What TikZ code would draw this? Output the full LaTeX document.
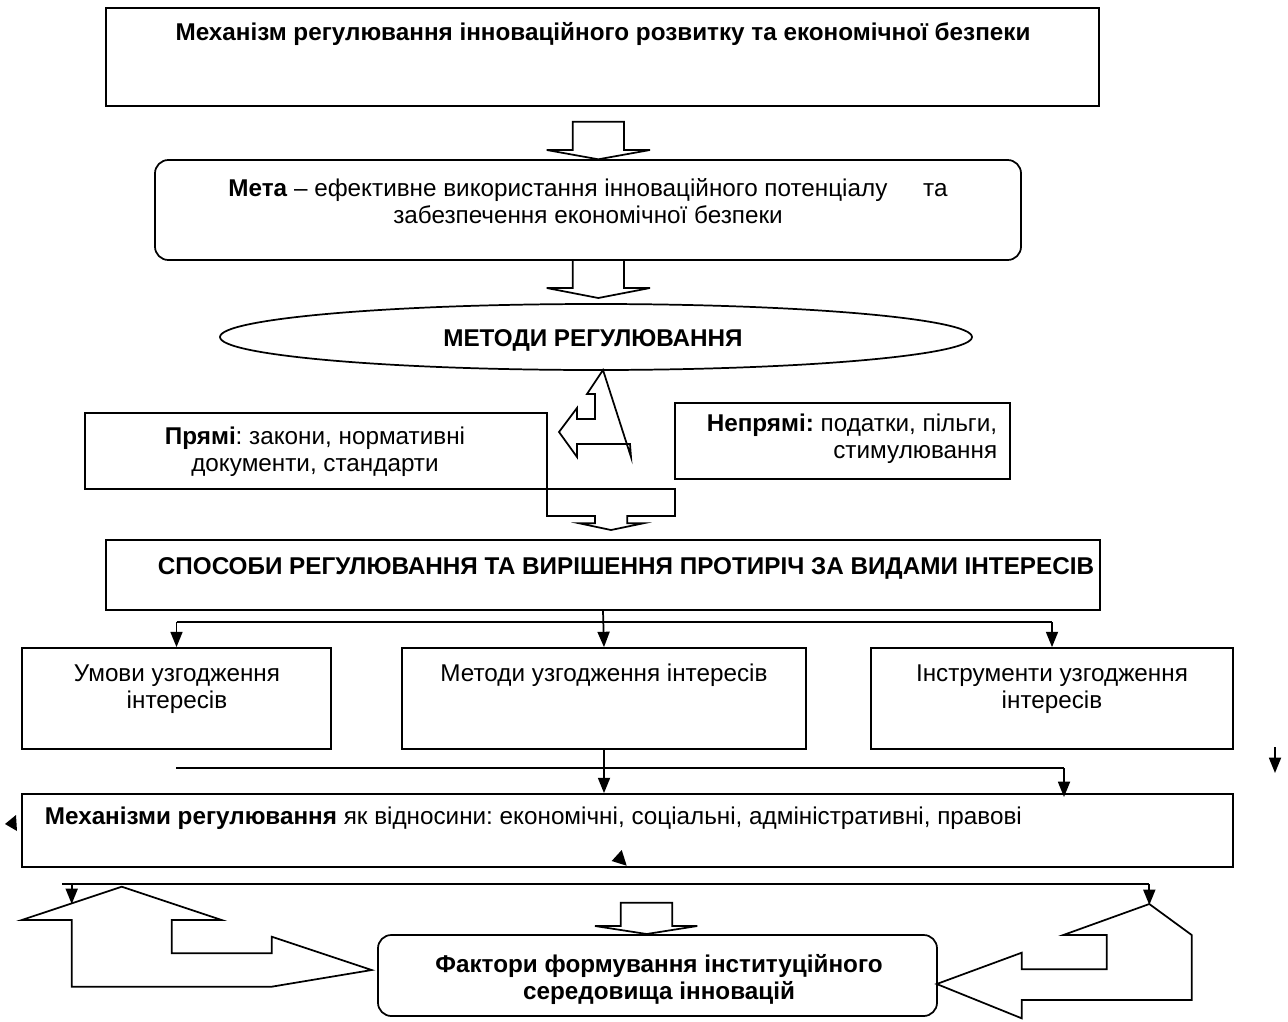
\documentclass[tikz,border=0pt]{standalone}
\usepackage{fontspec}
\setmainfont{Liberation Sans}
\usetikzlibrary{shapes.geometric,fit,arrows.meta}
\frenchspacing
\begin{document}
\begin{tikzpicture}[x=0.75pt,y=-0.75pt,line width=1.3pt,line join=miter,
  rectbox/.style={draw,inner sep=0pt,line width=1.3pt},
  roundbox/.style={draw,inner sep=0pt,line width=1.3pt,rounded corners=10pt},
  txt/.style={font=\fontsize{18.2}{20.25}\selectfont\frenchspacing,align=center,inner sep=0pt},
  btxt/.style={txt,font=\fontsize{18.2}{20.25}\selectfont\bfseries},
  arr/.style={-{Triangle[width=9pt,length=11.5pt]}},
  blockarrow/.style={draw,line width=1.3pt},
  tip/.style={fill=black,draw=none}]
\useasboundingbox (0,0) rectangle (1288,1021);

% top box
\node[rectbox,fit={(106,8)(1099,106)}] (top) {};
\node[btxt] (toptxt) at (603,34) {Механізм регулювання інноваційного розвитку та економічної безпеки};

% arrow 1
\draw[blockarrow] (572.7,121.7) -- (624,121.7) -- (624,150) -- (650,150) -- (598.3,159.3) -- (546.7,150) -- (572.7,150) -- cycle;

% goal box
\node[roundbox,fit={(155,160)(1021,260)}] (goal) {};
\node[txt] (goaltxt) at (588,201) {\textbf{Мета} – ефективне використання інноваційного потенціалу\hspace{1.2em} та\\забезпечення економічної безпеки};

% arrow 2
\draw[blockarrow] (572.7,260) -- (572.7,288) -- (546.7,288) -- (598.3,298) -- (650,288) -- (624,288) -- (624,260);

% ellipse
\node[draw,ellipse,inner sep=0pt,minimum width=564pt,minimum height=49.5pt] (methods) at (596,337) {};
\node[btxt] (methodstxt) at (593,340) {МЕТОДИ РЕГУЛЮВАННЯ};

% odd arrow under ellipse
\draw[blockarrow] (603,370) -- (587,394) -- (595,394) -- (595,419) -- (577,419) -- (577,408) -- (559,432) -- (577,457) -- (577,444) -- (630,444) -- (631,457) -- cycle;

% direct / indirect
\node[rectbox,fit={(85,413)(547,489)}] (direct) {};
\node[txt] (directtxt) at (315,452) {\textbf{Прямі}: закони, нормативні\\документи, стандарти};
\node[rectbox,fit={(675,403)(1010,479)}] (indirect) {};
\node[txt,align=right,anchor=east] (indirecttxt) at (998,439) {\textbf{Непрямі:} податки, пільги,\\стимулювання};

% block arrow to ways
\draw[blockarrow] (547,489) -- (675,489) -- (675,516) -- (627.3,516) -- (627.3,523.3) -- (643.3,523.3) -- (611,530) -- (579.3,523.3) -- (595,523.3) -- (595,516) -- (547,516) -- cycle;

% ways
\node[rectbox,fit={(106,540)(1100,610)}] (ways) {};
\node[btxt] (waystxt) at (626,568) {СПОСОБИ РЕГУЛЮВАННЯ ТА ВИРІШЕННЯ ПРОТИРІЧ ЗА ВИДАМИ ІНТЕРЕСІВ};

% three boxes
\node[rectbox,fit={(22,648)(331,749)}] (cond) {};
\node[txt] (condtxt) at (177,689) {Умови узгодження\\інтересів};
\node[rectbox,fit={(402,648)(806,749)}] (meth) {};
\node[txt] (methtxt) at (604,675) {Методи узгодження інтересів};
\node[rectbox,fit={(871,648)(1233,749)}] (instr) {};
\node[txt] (instrtxt) at (1052,689) {Інструменти узгодження\\інтересів};

\coordinate (bl) at (176.5,622);
\coordinate (br) at (1052,622);
\draw (bl) -- (br);
\draw[arr] (ways.south) -- (meth.north);
\draw[arr] (bl) -- (cond.north);
\draw[arr] (br) -- (instr.north);

% mechanisms
\node[rectbox,fit={(22,794)(1233,867)}] (mech) {};
\node[txt,anchor=west] (mechtxt) at (44,818) {\textbf{Механізми регулювання} як відносини: економічні, соціальні, адміністративні, правові};

\coordinate (ml) at (176,768);
\coordinate (mr) at (1064,768);
\coordinate (mrend) at (1064,797);
\draw (ml) -- (mr);
\draw[arr] (meth.south) -- (meth.south |- mech.north);
\draw[arr] (mr) -- (mrend);

\coordinate (stray1) at (1275,747);
\coordinate (stray2) at (1275,773);
\draw[arr] (stray1) -- (stray2);
\fill[tip] (5,824) -- (16,815) -- (17,831) -- cycle;
\fill[tip] (611.7,861) -- (621.7,850) -- (626.7,865.7) -- cycle;

% bottom line and arrows
\coordinate (fl) at (62,884);
\coordinate (fr) at (1149.3,884);
\coordinate (fla) at (71.7,884);
\coordinate (flb) at (71.7,904);
\coordinate (frb) at (1149.3,905);
\draw (fl) -- (fr);
\draw[arr] (fla) -- (flb);
\draw[arr] (fr) -- (frb);

% big bent arrows
\draw[blockarrow] (121.7,886.7) -- (21.7,920) -- (71.7,920) -- (71.7,986.7) -- (271.7,986.7) -- (371.7,970) -- (271.7,936.7) -- (271.7,953.3) -- (171.7,953.3) -- (171.7,920) -- (221.7,920) -- cycle;
\draw[blockarrow] (1149.3,904) -- (1191.7,935) -- (1191.7,1000) -- (1021.7,1000) -- (1021.7,1018.3) -- (936.7,984) -- (1021.7,952.7) -- (1021.7,969.3) -- (1106.7,969.3) -- (1106.7,935) -- (1063.3,935) -- cycle;
\draw[blockarrow] (620.7,902.7) -- (672.3,902.7) -- (672.3,926) -- (697.3,926) -- (646.7,934) -- (595,926) -- (620.7,926) -- cycle;

% factors
\node[roundbox,fit={(378,935)(937,1016)}] (fact) {};
\node[btxt] (facttxt) at (659,979) {Фактори формування інституційного\\середовища інновацій};
\end{tikzpicture}
\end{document}
